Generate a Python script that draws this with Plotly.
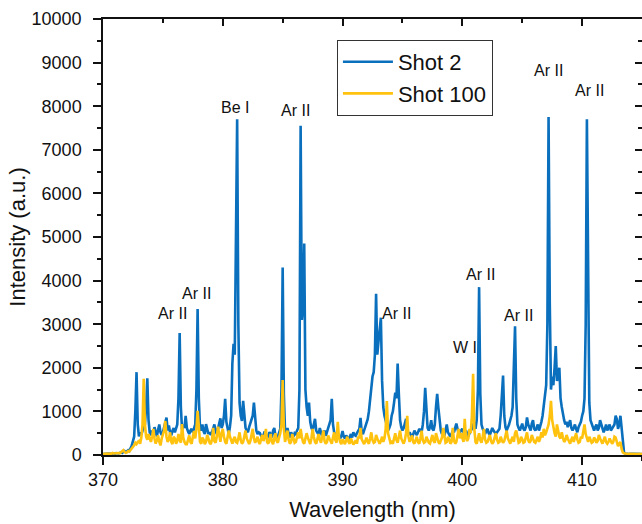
import numpy as np
import plotly.graph_objects as go

# Spectra sampled every 0.1 nm from 370.0 nm
wl_start = 370.0
wl_step = 0.1

shot2 = [
    20, 25, 30, 22, 28, 35, 30, 25, 40, 35,            # 370
    30, 45, 40, 35, 50, 60, 45, 70, 90, 60,            # 371
    80, 110, 90, 150, 220, 320, 420, 1000, 1900, 700,  # 372
    430, 520, 460, 560, 620, 700, 1100, 1760, 800, 520,  # 373
    450, 560, 480, 640, 520, 430, 580, 700, 520, 460,  # 374
    520, 640, 700, 860, 560, 680, 520, 450, 560, 620,  # 375
    520, 600, 700, 1300, 2800, 1100, 580, 700, 620, 900,  # 376
    620, 540, 480, 560, 600, 520, 620, 700, 1500, 3350,  # 377
    1300, 620, 560, 700, 540, 480, 710, 560, 480, 520,  # 378
    460, 520, 600, 700, 560, 480, 600, 700, 840, 620,  # 379
    700, 900, 1290, 760, 560, 480, 650, 900, 2100, 2550,  # 380
    2300, 4500, 7700, 3000, 1200, 900, 780, 1240, 800, 620,  # 381
    560, 520, 640, 720, 800, 900, 1200, 760, 560, 480,  # 382
    520, 500, 420, 380, 460, 540, 420, 380, 450, 520,  # 383
    480, 400, 560, 620, 440, 380, 420, 500, 600, 1500,  # 384
    4300, 1400, 520, 460, 620, 480, 400, 520, 460, 420,  # 385
    500, 480, 560, 620, 1500, 7550, 3100, 3400, 4850, 1500,  # 386
    1100, 900, 1200, 760, 620, 560, 700, 830, 560, 500,  # 387
    460, 620, 480, 420, 500, 560, 440, 520, 620, 700,  # 388
    800, 1290, 700, 520, 460, 400, 480, 420, 380, 440,  # 389
    550, 420, 380, 450, 400, 360, 420, 480, 400, 520,  # 390
    460, 440, 500, 560, 600, 850, 520, 480, 560, 620,  # 391
    700, 820, 1000, 1300, 1600, 1800, 1900, 2300, 3700, 2300,  # 392
    2600, 2900, 3150, 1700, 1100, 900, 760, 640, 560, 620,  # 393
    700, 900, 1000, 1200, 1430, 1300, 2100, 1400, 800, 640,  # 394
    560, 620, 700, 830, 560, 480, 520, 440, 400, 480,  # 395
    560, 500, 460, 520, 600, 560, 520, 700, 1000, 1540,  # 396
    900, 620, 560, 640, 800, 600, 560, 700, 1100, 1400,  # 397
    1080, 700, 560, 480, 520, 440, 600, 700, 520, 460,  # 398
    420, 480, 560, 520, 600, 720, 600, 480, 520, 560,  # 399
    600, 520, 480, 560, 460, 420, 500, 540, 600, 700,  # 400
    700, 600, 800, 1500, 3850, 1400, 700, 600, 520, 480,  # 401
    560, 600, 500, 460, 540, 620, 560, 500, 480, 520,  # 402
    560, 600, 900, 1500, 1820, 900, 640, 560, 620, 700,  # 403
    800, 900, 1100, 2000, 2950, 1300, 700, 620, 560, 640,  # 404
    720, 600, 560, 640, 860, 700, 620, 560, 720, 800,  # 405
    600, 560, 620, 700, 560, 640, 760, 900, 1100, 1300,  # 406
    1600, 3000, 7750, 3500, 1500, 1800, 1600, 2000, 2500, 1700,  # 407
    1800, 2000, 1300, 1100, 900, 800, 700, 760, 640, 700,  # 408
    800, 620, 560, 620, 700, 600, 520, 640, 700, 760,  # 409
    900, 1000, 1300, 3000, 7700, 3000, 1200, 800, 700, 620,  # 410
    560, 640, 700, 560, 620, 800, 700, 560, 520, 600,  # 411
    700, 560, 620, 700, 560, 600, 640, 700, 900, 820,  # 412
    600, 700, 900, 600, 200, 60, 35, 25, 30, 20,  # 413
    25, 30, 20, 25, 30, 25, 20, 30, 25, 20,  # 414
    25,                                          # 415
]

shot100 = [
    20, 30, 25, 35, 30, 40, 35, 30, 45, 35,  # 370
    40, 35, 50, 45, 40, 60, 80, 110, 70, 50,  # 371
    60, 90, 80, 110, 140, 180, 220, 280, 250, 300,  # 372
    320, 260, 400, 700, 1750, 700, 420, 350, 480, 380,  # 373
    300, 420, 600, 380, 260, 340, 450, 300, 220, 380,  # 374
    500, 560, 780, 420, 300, 360, 520, 300, 250, 420,  # 375
    380, 260, 320, 480, 350, 280, 710, 400, 300, 250,  # 376
    250, 380, 450, 300, 260, 420, 550, 380, 600, 1010,  # 377
    500, 300, 260, 400, 350, 250, 300, 460, 380, 280,  # 378
    250, 360, 620, 320, 280, 420, 650, 400, 300, 500,  # 379
    600, 420, 300, 260, 380, 560, 420, 320, 260, 360,  # 380
    420, 300, 280, 380, 520, 340, 260, 300, 420, 560,  # 381
    380, 300, 250, 320, 460, 600, 380, 280, 340, 420,  # 382
    300, 250, 380, 460, 320, 420, 600, 300, 260, 340,  # 383
    480, 300, 250, 380, 500, 320, 280, 400, 500, 700,  # 384
    1720, 600, 300, 420, 560, 350, 260, 300, 480, 380,  # 385
    280, 300, 420, 520, 380, 600, 420, 300, 260, 380,  # 386
    500, 400, 300, 250, 380, 600, 420, 300, 260, 380,  # 387
    480, 350, 280, 420, 560, 320, 260, 300, 450, 380,  # 388
    300, 260, 400, 520, 340, 280, 760, 400, 300, 250,  # 389
    360, 300, 250, 340, 420, 300, 260, 380, 300, 240,  # 390
    280, 340, 260, 420, 380, 620, 360, 280, 250, 320,  # 391
    400, 300, 260, 380, 520, 340, 280, 300, 460, 380,  # 392
    300, 260, 320, 420, 300, 380, 600, 1240, 500, 340,  # 393
    280, 300, 260, 380, 500, 340, 280, 420, 560, 380,  # 394
    300, 260, 340, 500, 900, 420, 300, 380, 450, 300,  # 395
    260, 340, 420, 300, 260, 380, 560, 340, 280, 300,  # 396
    420, 350, 280, 260, 380, 460, 320, 280, 500, 380,  # 397
    300, 260, 340, 400, 620, 380, 280, 300, 420, 350,  # 398
    260, 300, 620, 340, 260, 300, 420, 600, 380, 500,  # 399
    400, 300, 830, 400, 320, 380, 600, 500, 900, 1860,  # 400
    600, 300, 260, 380, 500, 340, 280, 420, 600, 350,  # 401
    280, 300, 380, 460, 320, 260, 300, 420, 500, 350,  # 402
    280, 300, 420, 340, 280, 320, 460, 560, 380, 300,  # 403
    260, 350, 420, 300, 500, 560, 380, 280, 300, 420,  # 404
    360, 280, 300, 400, 520, 340, 280, 320, 460, 380,  # 405
    300, 280, 350, 420, 300, 380, 520, 400, 600, 450,  # 406
    520, 600, 700, 900, 1240, 800, 600, 500, 420, 700,  # 407
    560, 420, 380, 520, 400, 300, 340, 460, 380, 300,  # 408
    260, 350, 420, 300, 380, 500, 360, 280, 300, 420,  # 409
    380, 600, 700, 480, 380, 300, 420, 340, 280, 300,  # 410
    400, 360, 280, 320, 460, 380, 300, 260, 340, 420,  # 411
    300, 260, 300, 380, 320, 260, 300, 420, 400, 280,  # 412
    200, 260, 300, 140, 60, 40, 30, 35, 25, 30,  # 413
    20, 25, 30, 25, 20, 30, 25, 20, 25, 30,  # 414
    20,                                       # 415
]

series_names = ["Shot 2", "Shot 100"]

# Line labels: text, wavelength, intensity
label_texts = ["Ar II", "Ar II", "Be I", "Ar II", "Ar II", "W I", "Ar II", "Ar II", "Ar II", "Ar II"]
label_x = [375.8, 377.8, 381.0, 386.1, 394.5, 400.2, 401.5, 404.7, 407.2, 410.6]
label_y = [3240, 3700, 7980, 7910, 3240, 2460, 4140, 3200, 8830, 8350]

x_ticks = [370, 380, 390, 400, 410]
y_ticks = [0, 1000, 2000, 3000, 4000, 5000, 6000, 7000, 8000, 9000, 10000]

wl2 = np.round(wl_start + wl_step * np.arange(len(shot2)), 2)
wl100 = np.round(wl_start + wl_step * np.arange(len(shot100)), 2)

BLUE = "#0A6FBD"
YELLOW = "#FFC20E"
FONT = "Liberation Sans, Arial, sans-serif"

fig = go.Figure()
fig.add_trace(go.Scatter(x=wl2, y=shot2, mode="lines", name=series_names[0],
                         line=dict(color=BLUE, width=2.6)))
fig.add_trace(go.Scatter(x=wl100, y=shot100, mode="lines", name=series_names[1],
                         line=dict(color=YELLOW, width=2.6)))
# empty trace to activate the mirrored (top/right) axes
fig.add_trace(go.Scatter(x=[], y=[], xaxis="x2", yaxis="y2", showlegend=False,
                         hoverinfo="skip"))

for t, xv, yv in zip(label_texts, label_x, label_y):
    fig.add_annotation(x=xv, y=yv, text=t, showarrow=False,
                       font=dict(family=FONT, size=16, color="#111"))

axis_common = dict(showgrid=False, zeroline=False, linecolor="#111", linewidth=1.5,
                   tickcolor="#111", tickwidth=1.5, automargin=False)

fig.update_layout(
    width=642, height=524,
    margin=dict(l=103, r=0, t=19, b=69),
    paper_bgcolor="white", plot_bgcolor="white",
    font=dict(family=FONT, color="#111"),
    xaxis=dict(range=[370, 415], tickvals=x_ticks, ticktext=[str(v) for v in x_ticks],
               ticks="outside", ticklen=8, showline=True,
               minor=dict(dtick=5, ticks="outside", ticklen=4, tickcolor="#111", tickwidth=1.5),
               tickfont=dict(size=18, family=FONT),
               title=dict(text="Wavelength (nm)", font=dict(size=22, family=FONT), standoff=12),
               **axis_common),
    yaxis=dict(range=[0, 10000], tickvals=y_ticks, ticktext=[str(v) for v in y_ticks],
               ticks="outside", ticklen=8, showline=True,
               minor=dict(dtick=500, ticks="outside", ticklen=4, tickcolor="#111", tickwidth=1.5),
               tickfont=dict(size=18, family=FONT), ticklabelstandoff=8,
               title=dict(text="Intensity (a.u.)", font=dict(size=22, family=FONT), standoff=0),
               **axis_common),
    xaxis2=dict(range=[370, 415], overlaying="x", side="top", anchor="y2",
                tickvals=x_ticks, ticks="inside", ticklen=7, showticklabels=False,
                showline=True,
                minor=dict(dtick=5, ticks="inside", ticklen=4, tickcolor="#111", tickwidth=1.5),
                **axis_common),
    yaxis2=dict(range=[0, 10000], overlaying="y", side="right", anchor="x2",
                tickvals=y_ticks, ticks="inside", ticklen=7, showticklabels=False,
                showline=False,
                minor=dict(dtick=500, ticks="inside", ticklen=4, tickcolor="#111", tickwidth=1.5),
                **axis_common),
    legend=dict(x=0.434, y=0.952, xanchor="left", yanchor="top",
                bordercolor="#333", borderwidth=1, bgcolor="white", itemwidth=50,
                font=dict(size=22, family=FONT), tracegroupgap=0),
    showlegend=True,
)

fig.write_html("out.html", config={"displayModeBar": False},
               post_script="document.body.style.margin='0';document.body.style.overflow='hidden';")
